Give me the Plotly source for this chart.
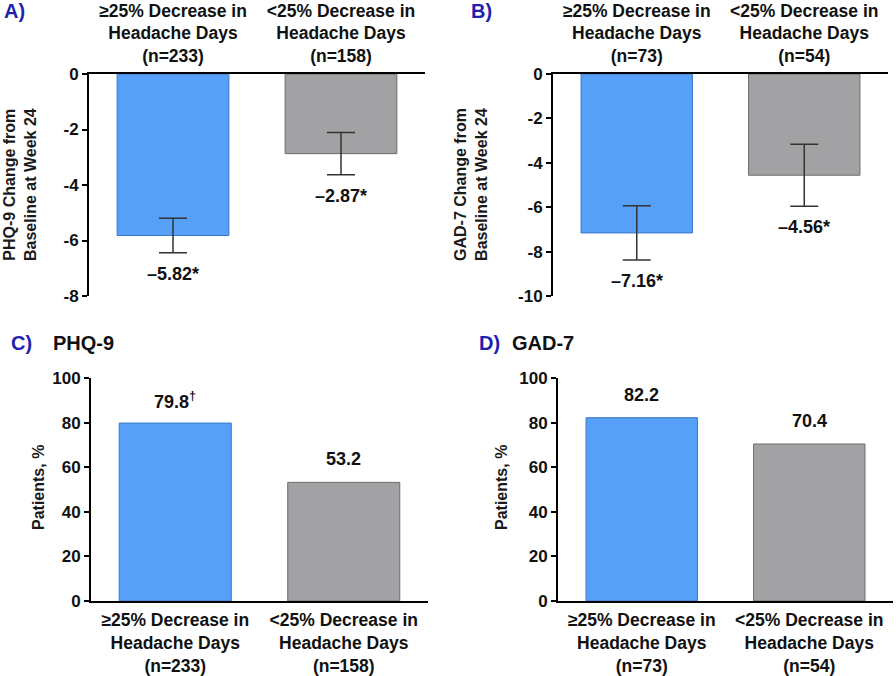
import plotly.graph_objects as go

# ---- data ----
cats_A = ["≥25% Decrease in<br>Headache Days<br>(n=233)", "&lt;25% Decrease in<br>Headache Days<br>(n=158)"]
cats_B = ["≥25% Decrease in<br>Headache Days<br>(n=73)", "&lt;25% Decrease in<br>Headache Days<br>(n=54)"]
phq_change = [-5.82, -2.87]
phq_err = [0.62, 0.76]
gad_change = [-7.16, -4.56]
gad_err = [1.22, 1.40]
phq_change_text = ["\u20135.82*", "\u20132.87*"]
gad_change_text = ["\u20137.16*", "\u20134.56*"]
phq_pct = [79.8, 53.2]
gad_pct = [82.2, 70.4]
phq_pct_text = ["79.8<sup>†</sup>", "53.2"]
gad_pct_text = ["82.2", "70.4"]
ticks_A = [0, -2, -4, -6, -8]
ticks_B = [0, -2, -4, -6, -8, -10]
ticks_pct = [0, 20, 40, 60, 80, 100]

FONT = "Arial, Liberation Sans, sans-serif"
BLUE = "#56a0f7"
BLUE_LINE = "#3b78c6"
GRAY = "#a2a2a5"
GRAY_LINE = "#6c6c6c"
colors = [BLUE, GRAY]
lcolors = [BLUE_LINE, GRAY_LINE]

fig = go.Figure()

def add_bars(x, y, xa, ya, err=None):
    fig.add_trace(go.Bar(
        x=x, y=y, xaxis=xa, yaxis=ya, width=0.665,
        marker=dict(color=colors, line=dict(color=lcolors, width=1)),
        error_y=(dict(type="data", array=err, color="#333333", thickness=1.5, width=14)
                 if err else None),
        showlegend=False, hoverinfo="skip"))

add_bars(cats_A, phq_change, "x", "y", phq_err)
add_bars(cats_B, gad_change, "x2", "y2", gad_err)
add_bars(cats_A, phq_pct, "x3", "y3")
add_bars(cats_B, gad_pct, "x4", "y4")

W, H = 896, 676
def dx(a, b): return [a / W, b / W]
def dy(top, bot): return [1 - bot / H, 1 - top / H]

tickfont = dict(family=FONT, size=17, color="#111111", weight="bold")
catfont = dict(family=FONT, size=17.5, color="#111111", weight="bold")

def xax(domain, anchor, side, standoff):
    return dict(domain=domain, anchor=anchor, side=side, range=[-0.5, 1.5],
                showline=True, linecolor="black", linewidth=2, ticks="",
                showgrid=False, zeroline=False, tickfont=catfont, fixedrange=True,
                automargin=False, ticklabelstandoff=standoff)

def yax(domain, anchor, rng, tv):
    return dict(domain=domain, anchor=anchor, range=rng, tickvals=tv,
                ticktext=[str(v) for v in tv], showline=True, linecolor="black",
                linewidth=2, ticks="outside", ticklen=5, tickwidth=2, tickcolor="black",
                showgrid=False, zeroline=False, tickfont=tickfont, automargin=False,
                fixedrange=True)

fig.update_layout(
    template="none",
    width=W, height=H, margin=dict(l=0, r=0, t=0, b=0, pad=0, autoexpand=False),
    paper_bgcolor="white", plot_bgcolor="white", showlegend=False,
    xaxis=xax(dx(89, 425), "y", "top", 3),
    yaxis=yax(dy(74, 296), "x", [-8, 0], ticks_A),
    xaxis2=xax(dx(553, 888), "y2", "top", 3),
    yaxis2=yax(dy(74, 296), "x2", [-10, 0], ticks_B),
    xaxis3=xax(dx(91, 428), "y3", "bottom", 2),
    yaxis3=yax(dy(378, 601), "x3", [0, 100], ticks_pct),
    xaxis4=xax(dx(558, 893), "y4", "bottom", 2),
    yaxis4=yax(dy(378, 601), "x4", [0, 100], ticks_pct),
)

valfont = dict(family=FONT, size=18, color="#111111", weight="bold")
ann = []
for xs, ys, es, ts, xr, yr in [(cats_A, phq_change, phq_err, phq_change_text, "x", "y"),
                               (cats_B, gad_change, gad_err, gad_change_text, "x2", "y2")]:
    for c, v, e, t in zip(xs, ys, es, ts):
        ann.append(dict(x=c, y=v - e, xref=xr, yref=yr, text=t, showarrow=False,
                        yanchor="middle", yshift=-21, font=valfont))
for xs, ys, ts, xr, yr in [(cats_A, phq_pct, phq_pct_text, "x3", "y3"),
                           (cats_B, gad_pct, gad_pct_text, "x4", "y4")]:
    for c, v, t in zip(xs, ys, ts):
        ann.append(dict(x=c, y=v, xref=xr, yref=yr, text=t, showarrow=False,
                        yanchor="middle", yshift=23, font=valfont))

panelfont = dict(family=FONT, size=20, color="#1f1fb0", weight="bold")
titlefont = dict(family=FONT, size=20, color="#111111", weight="bold")
for txt, x, y in [("A)", 2, 11), ("B)", 469, 11), ("C)", 9, 343), ("D)", 477, 343)]:
    ann.append(dict(x=x / W, y=1 - y / H, xref="paper", yref="paper", text=txt,
                    showarrow=False, xanchor="left", yanchor="middle", font=panelfont))
for txt, x, y in [("PHQ-9", 51, 343), ("GAD-7", 510, 343)]:
    ann.append(dict(x=x / W, y=1 - y / H, xref="paper", yref="paper", text=txt,
                    showarrow=False, xanchor="left", yanchor="middle", font=titlefont))

axtitlefont = dict(family=FONT, size=16, color="#1a1a1a", weight="bold")
for txt, x, y in [("PHQ-9 Change from<br>Baseline at Week 24", 20, 185),
                  ("GAD-7 Change from<br>Baseline at Week 24", 471, 185),
                  ("Patients, %", 38, 488),
                  ("Patients, %", 501, 488)]:
    ann.append(dict(x=x / W, y=1 - y / H, xref="paper", yref="paper", text=txt,
                    showarrow=False, textangle=-90, xanchor="center", yanchor="middle",
                    font=axtitlefont))

fig.update_layout(annotations=ann)
fig.write_html("out.html", config={"displayModeBar": False, "staticPlot": True},
               post_script="document.body.style.margin='0';document.body.style.overflow='hidden';")
